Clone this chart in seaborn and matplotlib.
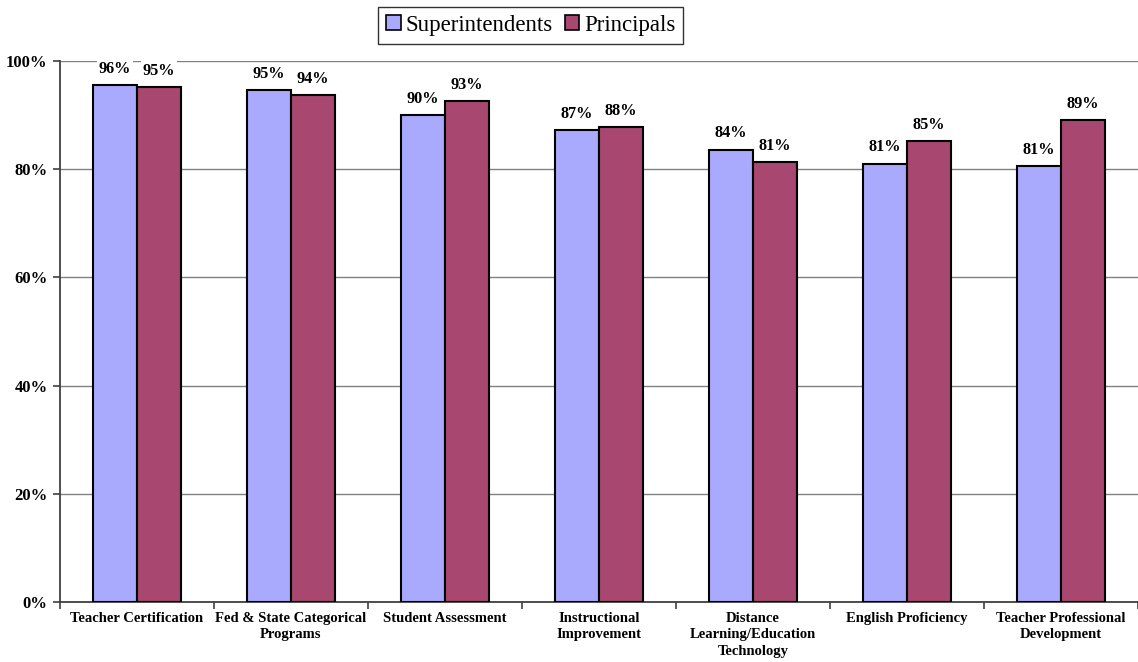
import matplotlib
matplotlib.use("Agg")
import matplotlib.pyplot as plt
import seaborn as sns
import pandas as pd
import numpy as np
from matplotlib.ticker import FixedLocator
from matplotlib.patches import Patch

categories = ["Teacher Certification", "Fed & State Categorical\nPrograms", "Student Assessment",
              "Instructional\nImprovement", "Distance\nLearning/Education\nTechnology",
              "English Proficiency", "Teacher Professional\nDevelopment"]
superintendents = [95.6, 94.6, 90.0, 87.2, 83.6, 81.0, 80.6]
principals = [95.2, 93.7, 92.6, 87.8, 81.3, 85.2, 89.1]
series_names = ["Superintendents", "Principals"]
colors = ["#A9AAFE", "#A8476F"]
y_ticks = [0, 20, 40, 60, 80, 100]

df = pd.DataFrame({
    "category": categories * 2,
    "series": [series_names[0]] * len(categories) + [series_names[1]] * len(categories),
    "value": superintendents + principals,
})

sns.set_theme(style="white")
plt.rcParams['font.family'] = ['Liberation Serif', 'DejaVu Serif']
plt.rcParams['text.color'] = 'black'
plt.rcParams['xtick.color'] = 'black'
plt.rcParams['ytick.color'] = 'black'
plt.rcParams['axes.labelcolor'] = 'black'

fig = plt.figure(figsize=(11.38, 6.62), dpi=100)
ax = fig.add_axes([0.0527, 0.0906, 0.9473, 0.8172])

sns.barplot(data=df, x="category", y="value", hue="series", palette=colors,
            width=0.57, edgecolor="black", linewidth=1.5, ax=ax, legend=False,
            saturation=1, zorder=3)

ax.set_xlim(-0.5, len(categories) - 0.5)
ax.set_ylim(0, 100)
ax.set_yticks(y_ticks)
ax.set_yticklabels([f"{t}%" for t in y_ticks], fontsize=12, fontweight="bold")
ax.yaxis.grid(True, color="#808080", linewidth=1.0, zorder=0)
ax.set_axisbelow(True)
ax.set_xlabel("")
ax.set_ylabel("")

ax.set_xticks(range(len(categories)))
ax.set_xticklabels(categories, fontsize=10.5, fontweight="bold", va="top", linespacing=1.35)
ax.tick_params(axis="x", which="major", length=0, pad=7, labelcolor="black")
ax.xaxis.set_minor_locator(FixedLocator(np.arange(-0.5, len(categories), 1.0)))
ax.tick_params(axis="x", which="minor", length=5, width=1.2, color="#404040", direction="out", bottom=True)
ax.tick_params(axis="y", which="major", length=5, width=1.2, color="#404040", direction="out", left=True, pad=4,
               labelcolor="black")

for s in ["top", "right"]:
    ax.spines[s].set_visible(False)
for s in ["left", "bottom"]:
    ax.spines[s].set_color("#404040")
    ax.spines[s].set_linewidth(1.3)

for cont in ax.containers:
    labels = [f"{v:.0f}%" for v in cont.datavalues]
    ax.bar_label(cont, labels=labels, padding=6, fontsize=11.7, fontweight="bold", color="black",
                 bbox=dict(facecolor="white", edgecolor="none", pad=1.0))

handles = [Patch(facecolor=c, edgecolor="black", linewidth=1.2) for c in colors]
leg = fig.legend(handles, series_names, loc="upper center", bbox_to_anchor=(0.4665, 0.99),
                 ncol=2, frameon=True, fancybox=False, fontsize=16.5, handlelength=0.65,
                 handleheight=0.65, handletextpad=0.2, columnspacing=0.5, borderpad=0.35,
                 borderaxespad=0.0)
leg.get_frame().set_edgecolor("black")
leg.get_frame().set_linewidth(1.0)

fig.savefig("out.png", dpi=100, facecolor="white")
